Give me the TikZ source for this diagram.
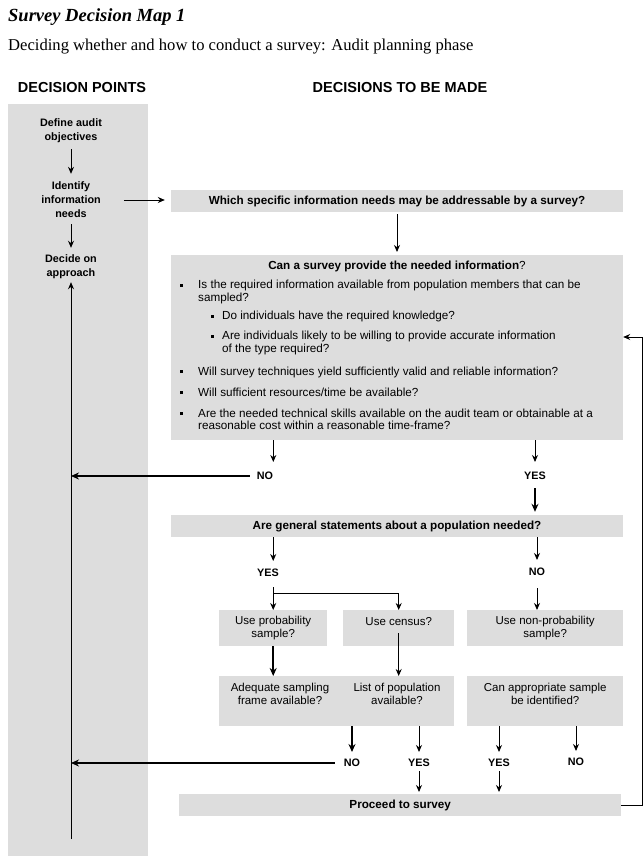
\documentclass[tikz,border=0pt]{standalone}
\usepackage{fontspec}
\setmainfont{Liberation Sans}
\newfontfamily\titlefont{Liberation Serif}
\usetikzlibrary{arrows.meta, positioning, calc}
\definecolor{panelgray}{RGB}{221,221,221}
\newcommand{\sqb}{\rule[2pt]{2.7pt}{2.7pt}}
\tikzset{
    box/.style={fill=panelgray, inner sep=0pt, align=center, font=\fontsize{11.7}{13}\selectfont\bfseries},
    qbox/.style={fill=panelgray, inner sep=0pt, align=center, font=\fontsize{11.5}{13}\selectfont},
    qtext/.style={inner sep=0pt, align=center, font=\fontsize{11.5}{13}\selectfont},
    point/.style={inner sep=0pt, align=center, font=\fontsize{10.8}{14}\selectfont\bfseries},
    answer/.style={inner sep=0pt, text height=7.6pt, text depth=0pt, font=\fontsize{10.8}{12}\selectfont\bfseries},
    colhead/.style={inner sep=0pt, anchor=base, font=\fontsize{14.5}{16}\selectfont\bfseries},
    arrow/.style={-{Stealth[length=7pt,width=6pt]}, line width=0.9pt},
    thickarrow/.style={-{Stealth[length=8pt,width=7pt]}, line width=2.2pt}
}

\begin{document}
\begin{tikzpicture}[x=1pt, y=-1pt]
    \useasboundingbox (0,0) rectangle (644,858);
    % headings
    \node [anchor=base west, inner sep=0pt, font=\titlefont\fontsize{18.5}{20}\selectfont\bfseries\itshape] (title) at (8,22) {Survey Decision Map 1};
    \node [anchor=base west, inner sep=0pt, font=\titlefont\fontsize{16.6}{18}\selectfont] (subtitle) at (8,51) {Deciding whether and how to conduct a survey: Audit planning phase};
    \node [colhead] (pointshead) at (82,93) {DECISION POINTS};
    \node [colhead] (madehead) at (400,93) {DECISIONS TO BE MADE};

    % decision points column
    \node [fill=panelgray, inner sep=0pt, minimum width=140pt, minimum height=752pt, anchor=north west] (panel) at (8,104) {};
    \node [point] (define) at (71,131) {Define audit\\objectives};
    \node [point] (identify) at (71,200) {Identify\\information\\needs};
    \node [point] (decide) at (71,267) {Decide on\\approach};
    \coordinate (loopbot) at (71,839);
    \draw [arrow, shorten <=6pt, shorten >=8pt] (define) -- (identify);
    \draw [arrow, shorten <=6pt, shorten >=7pt] (identify) -- (decide);
    \draw [arrow, shorten >=3pt] (loopbot) -- (decide);

    % survey question
    \node [box, minimum width=452pt, minimum height=22pt] (whichbox) at (397,201) {Which specific information needs may be addressable by a survey?};
    \draw [arrow, shorten <=23pt, shorten >=6pt] (identify.east) -- (identify.east -| whichbox.west);

    \node [fill=panelgray, inner sep=0pt, minimum width=452pt, minimum height=185pt, anchor=north] (canbox) at (397,255) {};
    \node [inner sep=0pt, font=\fontsize{11.7}{13}\selectfont] (cantitle) at (397,266.5) {\textbf{Can a survey provide the needed information}?};
    \node [inner sep=0pt, anchor=north west, align=left, font=\fontsize{11.7}{12.5}\selectfont] (needs) at (180,280) {%
        \makebox[18pt][l]{\sqb}Is the required information available from population members that can be\\
        \makebox[18pt]{}sampled?\\[6pt]
        \makebox[42pt][l]{\hspace{31pt}\sqb}Do individuals have the required knowledge?\\[7.5pt]
        \makebox[42pt][l]{\hspace{31pt}\sqb}Are individuals likely to be willing to provide accurate information\\
        \makebox[42pt]{}of the type required?\\[10.5pt]
        \makebox[18pt][l]{\sqb}Will survey techniques yield sufficiently valid and reliable information?\\[8.5pt]
        \makebox[18pt][l]{\sqb}Will sufficient resources/time be available?\\[8.5pt]
        \makebox[18pt][l]{\sqb}Are the needed technical skills available on the audit team or obtainable at a\\
        \makebox[18pt]{}reasonable cost within a reasonable time-frame?};
    \draw [arrow, shorten <=2pt, shorten >=3pt] (whichbox) -- (canbox);

    \node [answer] (no1) at (265,476) {NO};
    \node [answer] (yes1) at (535,476) {YES};
    \draw [arrow, shorten >=10pt] (canbox.south -| no1.north east) -- (no1.north east);
    \draw [arrow, shorten >=10pt] (canbox.south -| yes1.north) -- (yes1.north);
    \draw [thickarrow, shorten <=7pt] (no1.west) -- (no1.west -| loopbot);

    % population question
    \node [box, minimum width=452pt, minimum height=22pt] (genbox) at (397,526) {Are general statements about a population needed?};
    \draw [thickarrow, shorten <=8pt, shorten >=3pt] (yes1.south) -- (yes1.south |- genbox.north);

    % sampling choices
    \node [qbox, minimum width=108pt, minimum height=36pt, anchor=north west] (probbox) at (219,610) {Use probability\\sample?};
    \node [qbox, minimum width=111pt, minimum height=36pt, anchor=north west] (censusbox) at (343,610) {Use census?\\\mbox{}};
    \node [qbox, minimum width=156pt, minimum height=36pt, anchor=north west] (nonprobbox) at (467,610) {Use non-probability\\sample?};

    \node [answer] (yes2) at (268,573) {YES};
    \node [answer] (no2) at (537,572) {NO};
    \draw [arrow, shorten >=8pt] (genbox.south -| probbox.north) -- (probbox.north |- yes2.north);
    \draw [arrow, shorten >=8pt] (genbox.south -| no2.north) -- (no2.north);

    \coordinate (split) at ($(probbox.north)+(0,-17)$);
    \draw [arrow, shorten <=10pt] (yes2.south -| probbox.north) -- (probbox.north);
    \draw [arrow] (split) -| (censusbox.north);
    \draw [arrow, shorten <=12pt] (no2.south) -- (no2.south |- nonprobbox.north);

    \node [fill=panelgray, inner sep=0pt, minimum width=235pt, minimum height=50pt, anchor=north west] (framebox) at (219,676) {};
    \node [qtext, anchor=north] (framelbl) at (280,683) {Adequate sampling\\frame available?};
    \node [qtext, anchor=north] (listlbl) at (397,683) {List of population\\available?};
    \node [fill=panelgray, inner sep=0pt, minimum width=156pt, minimum height=50pt, anchor=north west] (apprbox) at (467,676) {};
    \node [qtext, below=7pt of apprbox.north] (apprlbl) {Can appropriate sample\\be identified?};
    \draw [thickarrow] (probbox.south) -- (probbox.south |- framebox.north);
    \draw [arrow] ([yshift=13pt]censusbox.south) -- (censusbox.south |- framebox.north);

    % final answers
    \node [answer] (no3) at (352,763) {NO};
    \node [answer] (yes3) at (419,763) {YES};
    \node [answer] (yes4) at (499,763) {YES};
    \node [answer] (no4) at (576,762) {NO};
    \draw [thickarrow, shorten >=7pt] (framebox.south -| no3.north) -- (no3.north);
    \draw [arrow, shorten >=7pt] (framebox.south -| yes3.north) -- (yes3.north);
    \draw [arrow, shorten >=7pt] (apprbox.south -| yes4.north) -- (yes4.north);
    \draw [arrow, shorten >=7pt] (apprbox.south -| no4.north) -- (no4.north);
    \draw [thickarrow, shorten <=9pt] (no3.west) -- (no3.west -| loopbot);

    \node [box, minimum width=442pt, minimum height=22pt, anchor=north west] (proceed) at (179,794) {Proceed to survey};
    \draw [arrow, shorten <=4pt, shorten >=2pt] (yes3.south) -- (yes3.south |- proceed.north);
    \draw [arrow, shorten <=4pt, shorten >=2pt] (yes4.south) -- (yes4.south |- proceed.north);

    % loop back to the survey question
    \coordinate (backtop) at (642,337);
    \draw [arrow] (proceed.east) -| (backtop) -- (backtop -| canbox.east);
\end{tikzpicture}
\end{document}
